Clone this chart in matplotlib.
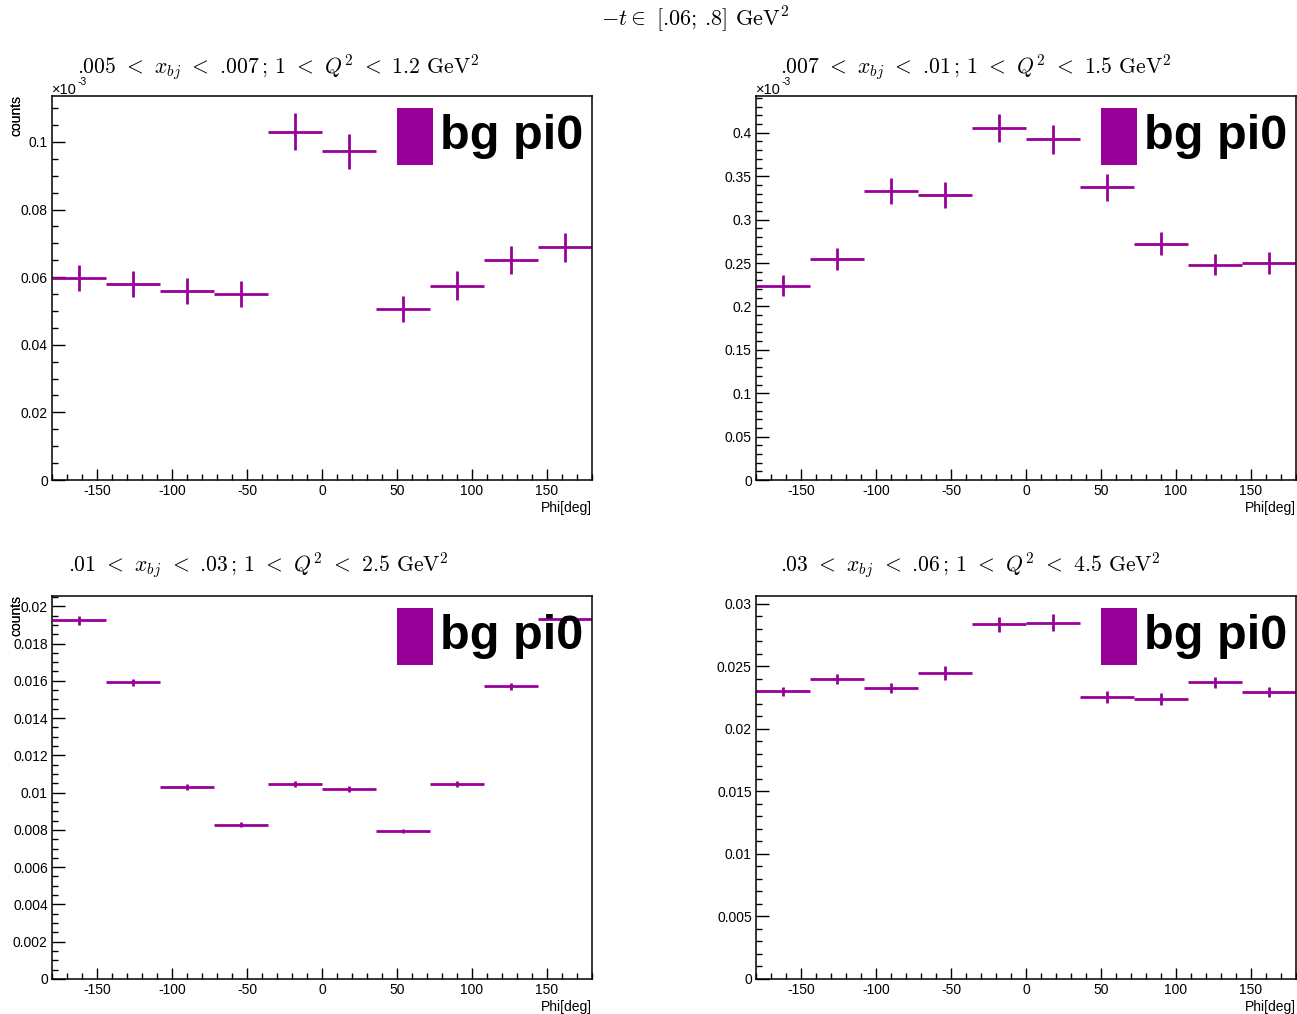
import numpy as np
import matplotlib
matplotlib.use("Agg")
import matplotlib.pyplot as plt
from matplotlib.patches import Rectangle
from matplotlib.ticker import MultipleLocator, FuncFormatter

plt.rcParams["font.family"] = ["Liberation Sans", "DejaVu Sans"]
plt.rcParams["mathtext.fontset"] = "cm"

# phi bins: 10 bins of 36 deg between -180 and 180
phi_edges = np.linspace(-180, 180, 11)
phi_centers = 0.5 * (phi_edges[:-1] + phi_edges[1:])

# panel titles (text parts in cmr10, symbols in mathtext)
titles = [
    r".005 $<$ $x_{bj}$ $<$ .007$\,$; 1 $<$ $Q^2$ $<$ 1.2 GeV$^2$",
    r".007 $<$ $x_{bj}$ $<$ .01$\,$; 1 $<$ $Q^2$ $<$ 1.5 GeV$^2$",
    r".01 $<$ $x_{bj}$ $<$ .03$\,$; 1 $<$ $Q^2$ $<$ 2.5 GeV$^2$",
    r".03 $<$ $x_{bj}$ $<$ .06$\,$; 1 $<$ $Q^2$ $<$ 4.5 GeV$^2$",
]
suptitle = r"$-t \in$ [.06; .8] GeV$^2$"

# counts per bin (panels 1 and 2 in units of 1e-3, as on the axis)
counts_1 = [0.0597, 0.0580, 0.0560, 0.0550, 0.1030, 0.0972, 0.0505, 0.0575, 0.0650, 0.0688]
errors_1 = [0.0038, 0.0039, 0.0039, 0.0039, 0.0055, 0.0052, 0.0038, 0.0042, 0.0042, 0.0044]

counts_2 = [0.2239, 0.2551, 0.3326, 0.3283, 0.4054, 0.3923, 0.3372, 0.2724, 0.2478, 0.2501]
errors_2 = [0.0120, 0.0127, 0.0150, 0.0150, 0.0162, 0.0162, 0.0152, 0.0130, 0.0120, 0.0125]

counts_3 = [0.01925, 0.01591, 0.01029, 0.00827, 0.01048, 0.01020, 0.00795, 0.01045, 0.01571, 0.01929]
errors_3 = [0.00024, 0.00018, 0.00016, 0.00014, 0.00016, 0.00016, 0.00012, 0.00016, 0.00018, 0.00020]

counts_4 = [0.02298, 0.02396, 0.02327, 0.02444, 0.02835, 0.02848, 0.02253, 0.02239, 0.02370, 0.02293]
errors_4 = [0.00035, 0.00043, 0.00040, 0.00053, 0.00061, 0.00066, 0.00050, 0.00047, 0.00043, 0.00043]

all_counts = [counts_1, counts_2, counts_3, counts_4]
all_errors = [errors_1, errors_2, errors_3, errors_4]
y_tops = [0.1136, 0.4424, 0.02055, 0.0306]
y_major = [0.02, 0.05, 0.002, 0.005]
y_minor = [0.005, 0.01, 0.0005, 0.001]
scaled = [True, True, False, False]

color = "#990099"
W, H = 1297, 1014
fig = plt.figure(figsize=(W / 100, H / 100), dpi=100)

# axes boxes in pixels: left, top, right, bottom
boxes = [(52, 96, 592, 480), (756, 96, 1296, 480),
         (52, 596, 592, 979), (756, 596, 1296, 979)]
# title left edge and baseline in pixels
title_pos = [(77, 74), (780, 74), (68, 572), (780, 572)]

fmt = FuncFormatter(lambda v, p: "%g" % round(v, 6))

for i in range(4):
    l, t, r, b = boxes[i]
    ax = fig.add_axes([l / W, 1 - b / H, (r - l) / W, (b - t) / H])
    ax.errorbar(phi_centers, all_counts[i], xerr=18, yerr=all_errors[i],
                fmt="none", ecolor=color, elinewidth=2.0, capsize=0)
    ax.set_xlim(-180, 180)
    ax.set_ylim(0, y_tops[i])
    ax.xaxis.set_major_locator(MultipleLocator(50))
    ax.xaxis.set_minor_locator(MultipleLocator(10))
    ax.yaxis.set_major_locator(MultipleLocator(y_major[i]))
    ax.yaxis.set_minor_locator(MultipleLocator(y_minor[i]))
    ax.yaxis.set_major_formatter(fmt)
    ax.xaxis.set_major_formatter(fmt)
    ax.tick_params(axis="both", which="both", direction="in", labelsize=10,
                   top=False, right=False, width=1.0)
    ax.tick_params(axis="x", which="major", length=8, pad=3)
    ax.tick_params(axis="x", which="minor", length=4)
    ax.tick_params(axis="y", which="major", length=9, pad=3)
    ax.tick_params(axis="y", which="minor", length=4.5)
    for sp in ax.spines.values():
        sp.set_linewidth(1.1)

    ax.text(1.0, -0.055, "Phi[deg]", transform=ax.transAxes, ha="right",
            va="top", fontsize=10)
    fig.text(16 / W, 1 - (t - 1) / H, "counts", rotation=90, ha="center",
             va="top", fontsize=10)
    if scaled[i]:
        ax.annotate("×10", xy=(0, 1), xycoords="axes fraction",
                    xytext=(0, 1.2), textcoords="offset points",
                    ha="left", va="baseline", fontsize=10.5)
        ax.annotate("-3", xy=(0, 1), xycoords="axes fraction",
                    xytext=(18.5, 7.8), textcoords="offset points",
                    ha="left", va="baseline", fontsize=7.5)

    # legend box
    ax.add_patch(Rectangle((345 / 540, 1 - 69 / 384), 36 / 540, 57 / 384,
                           transform=ax.transAxes, facecolor=color,
                           edgecolor="none", clip_on=False))
    ax.text(388 / 540, 1 - 53 / 384, "bg pi0", transform=ax.transAxes,
            ha="left", va="baseline", fontsize=35, fontweight="bold")

    tx, ty = title_pos[i]
    fig.text(tx / W, 1 - ty / H, titles[i], ha="left", va="baseline",
             fontsize=15.6, fontfamily="cmr10")

fig.text(695 / W, 1 - 26 / H, suptitle, ha="center", va="baseline",
         fontsize=16, fontfamily="cmr10")

fig.savefig("out.png", dpi=100)
